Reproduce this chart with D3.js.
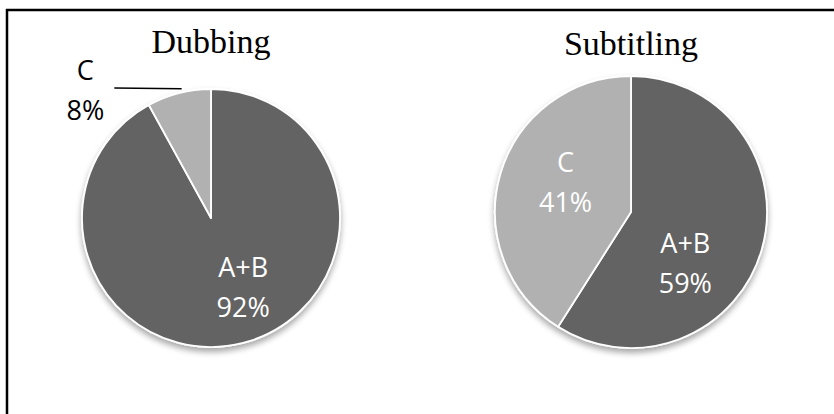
<!DOCTYPE html>
<html>
<head>
<meta charset="utf-8">
<script src="https://cdn.jsdelivr.net/npm/d3@7"></script>
<style>
  body { margin: 0; background: #fff; }
  svg { display: block; }
</style>
</head>
<body>
<svg id="chart" width="834" height="414"></svg>
<script>
// data
var charts = ["Dubbing", "Subtitling"];
var categories = ["A+B", "C"];
var dubbingValues = [92, 8];
var subtitlingValues = [59, 41];

// layout (not data)
var pies = [
  { cx: 211, cy: 218, r: 129, values: dubbingValues,
    labels: [{ angle: 155, k: 0.59, inside: true }, { angle: 315.5, k: 1.39, inside: false }] },
  { cx: 631, cy: 212, r: 136, values: subtitlingValues,
    labels: [{ angle: 133.4, k: 0.55, inside: true }, { angle: 294.8, k: 0.53, inside: true }] }
];
var titleY = [53, 55];

var color = d3.scaleOrdinal().domain(categories).range(["#636363", "#b1b1b1"]);

var svg = d3.select("#chart");

// frame (only top and left edges show in the crop)
svg.append("line").attr("x1", 6).attr("x2", 834).attr("y1", 10).attr("y2", 10)
  .attr("stroke", "#000").attr("stroke-width", 2.5);
svg.append("line").attr("x1", 7).attr("x2", 7).attr("y1", 9).attr("y2", 414)
  .attr("stroke", "#000").attr("stroke-width", 2.5);

var defs = svg.append("defs");
var f = defs.append("filter").attr("id", "shadow")
  .attr("x", "-20%").attr("y", "-20%").attr("width", "140%").attr("height", "140%");
f.append("feGaussianBlur").attr("in", "SourceAlpha").attr("stdDeviation", 3);
f.append("feOffset").attr("dx", 0).attr("dy", 4).attr("result", "off");
f.append("feComponentTransfer").append("feFuncA").attr("type", "linear").attr("slope", 0.35);
var m = f.append("feMerge");
m.append("feMergeNode");
m.append("feMergeNode").attr("in", "SourceGraphic");

var pie = d3.pie().sort(null).value(function(d) { return d; });

pies.forEach(function(p, i) {
  var g = svg.append("g").attr("transform", "translate(" + p.cx + "," + p.cy + ")");
  var arc = d3.arc().innerRadius(0).outerRadius(p.r);
  var arcs = pie(p.values);

  g.append("g").attr("filter", "url(#shadow)")
    .selectAll("path")
    .data(arcs)
    .enter()
    .append("path")
    .attr("d", arc)
    .attr("fill", function(d, j) { return color(categories[j]); })
    .attr("stroke", "#fff")
    .attr("stroke-width", 1.8)
    .attr("stroke-linejoin", "round");

  // title
  svg.append("text")
    .attr("x", p.cx).attr("y", titleY[i])
    .attr("text-anchor", "middle")
    .attr("font-family", "'Liberation Serif', 'DejaVu Serif', serif")
    .attr("font-size", 34)
    .attr("fill", "#000")
    .text(charts[i]);

  arcs.forEach(function(d, j) {
    var L = p.labels[j];
    var a = L.angle * Math.PI / 180;
    var x = Math.sin(a) * p.r * L.k;
    var y = -Math.cos(a) * p.r * L.k;
    var t = g.append("text")
      .attr("text-anchor", "middle")
      .attr("font-family", "'Open Sans', 'Noto Sans', sans-serif")
      .attr("font-size", 27)
      .attr("fill", L.inside ? "#fff" : "#000");
    t.append("tspan").attr("x", x).attr("y", y - 10).text(categories[j]);
    t.append("tspan").attr("x", x).attr("y", y + 30).text(d.value + "%");

    if (!L.inside) {
      // leader line from label to slice edge
      var mid = (d.startAngle + d.endAngle) / 2;
      var ex = Math.sin(mid) * p.r * 1.01 + 3;
      var ey = -Math.cos(mid) * p.r * 1.01 - 3;
      g.append("line")
        .attr("x1", x + 29).attr("y1", y - 2)
        .attr("x2", ex).attr("y2", ey)
        .attr("stroke", "#000").attr("stroke-width", 1.5);
    }
  });
});
</script>
</body>
</html>
